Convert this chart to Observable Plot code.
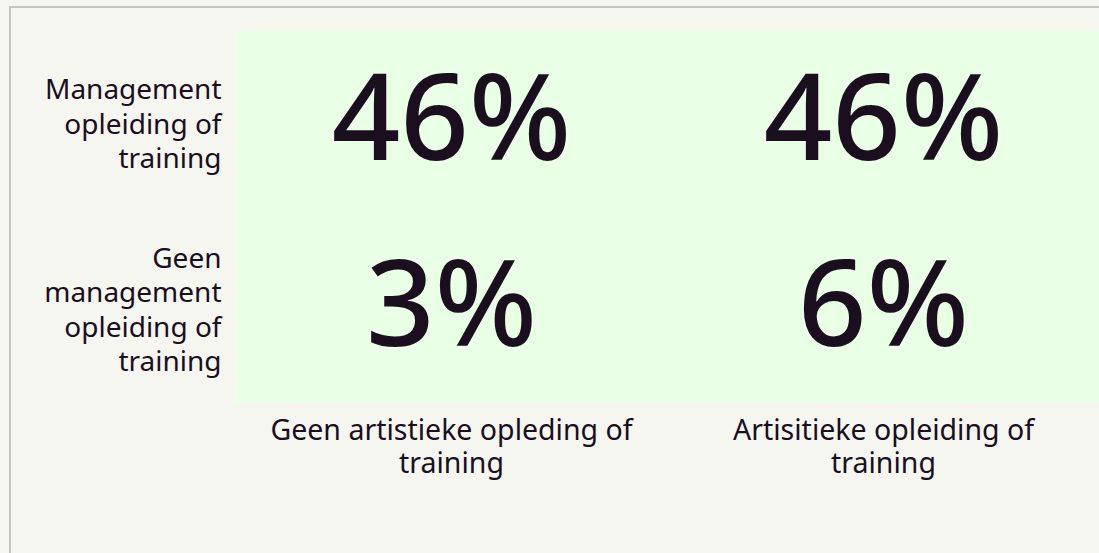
<!DOCTYPE html>
<html>
<head>
<meta charset="utf-8">
<script src="https://cdn.jsdelivr.net/npm/d3@7"></script>
<script src="https://cdn.jsdelivr.net/npm/@observablehq/plot@0.6"></script>
<style>
  html, body { margin: 0; padding: 0; background: #f5f6f0; width: 1099px; height: 553px; overflow: hidden; }
  #frame { position: absolute; left: 9px; top: 6px; width: 1200px; height: 700px; border-left: 2px solid #c6c6bf; border-top: 2px solid #c6c6bf; }
  #chart { position: absolute; left: 0; top: 0; }
</style>
</head>
<body>
<div id="frame"></div>
<div id="chart"></div>
<script>
const columns = ["Geen artistieke opleding of training", "Artisitieke opleiding of training"];
const columnLabels = ["Geen artistieke opleding of\ntraining", "Artisitieke opleiding of\ntraining"];
const rows = ["Management opleiding of training", "Geen management opleiding of training"];
const rowLabels = ["Management\nopleiding of\ntraining", "Geen\nmanagement\nopleiding of\ntraining"];
// percentages: [row][column]
const valuesManagement = [46, 46];
const valuesNoManagement = [3, 6];

const cells = [];
columns.forEach((c, i) => {
  cells.push({col: c, row: rows[0], value: valuesManagement[i]});
  cells.push({col: c, row: rows[1], value: valuesNoManagement[i]});
});
const colTable = columns.map((c, i) => ({col: c, label: columnLabels[i]}));
const rowTable = rows.map((r, i) => ({row: r, label: rowLabels[i]}));

const font = "'Noto Sans', sans-serif";
const ink = "#1b0e1e";

const chart = Plot.plot({
  width: 1099,
  height: 553,
  marginLeft: 234,
  marginRight: 0,
  marginTop: 31,
  marginBottom: 150,
  style: {background: "transparent", fontFamily: font},
  x: {domain: columns, padding: 0, axis: null},
  y: {domain: rows, padding: 0, axis: null},
  marks: [
    Plot.cell(cells, {x: "col", y: "row", fill: "#e9ffe6"}),
    Plot.text(cells, {x: "col", y: "row", text: d => d.value + "%", fontSize: 120, fontWeight: 500, dy: -3, fill: ink, fontFamily: font}),
    Plot.text(rowTable, {y: "row", text: "label", frameAnchor: "left", textAnchor: "end", dx: -13, dy: -2, fontSize: 28, lineHeight: 1.23, fill: ink, fontFamily: font}),
    Plot.text(colTable, {x: "col", text: "label", frameAnchor: "bottom", lineAnchor: "top", textAnchor: "middle", dy: 13, fontSize: 28.5, lineHeight: 1.16, fill: ink, fontFamily: font})
  ]
});
document.getElementById("chart").appendChild(chart);
</script>
</body>
</html>
